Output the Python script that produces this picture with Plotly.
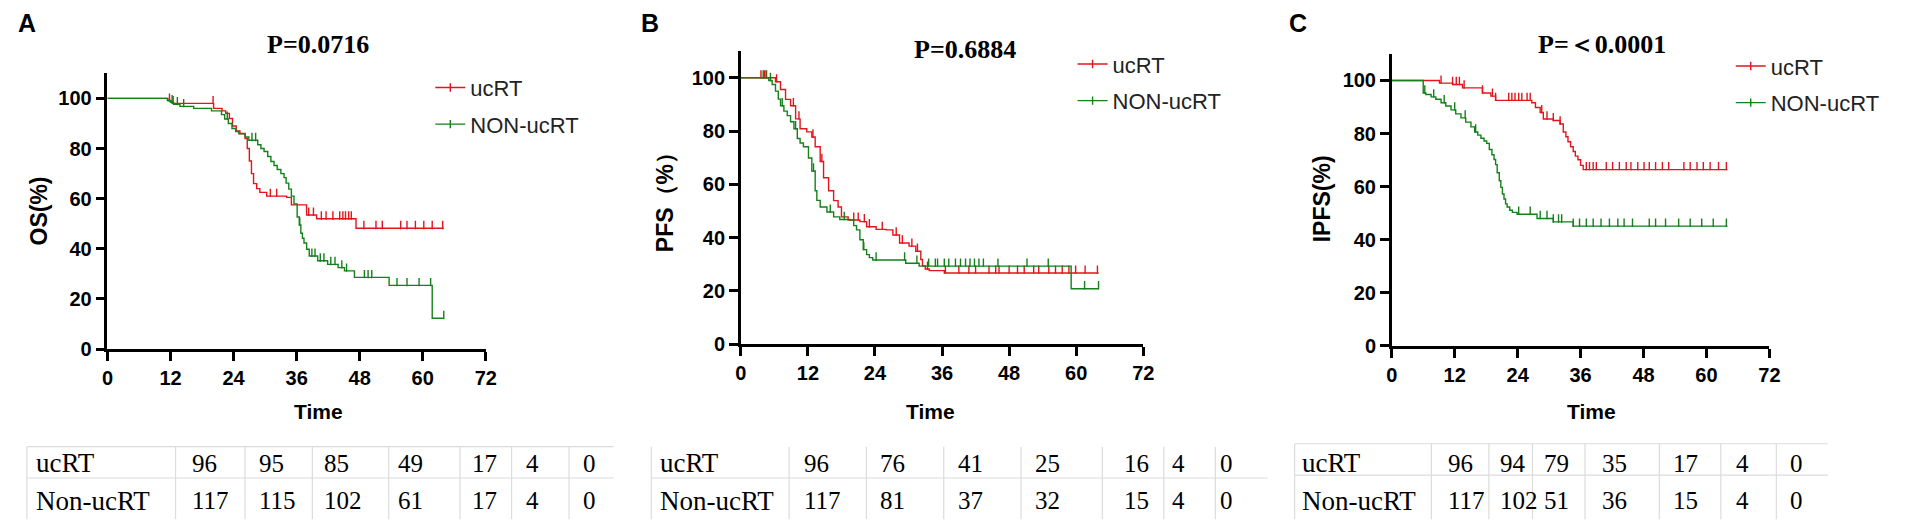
import numpy as np
import plotly.graph_objects as go

W, H = 1929, 529
RED = "#e3141b"
GREEN = "#13801a"
END = 64

# ---- Kaplan-Meier step data (time in months, survival %) ----
# A: OS
os_uc_t = [0, 11.5, 12.3, 20.2, 21.8, 22.5, 23.2, 23.8, 24.5, 25.2, 26.2, 26.6, 27.0, 27.4, 27.8,
           28.4, 29.0, 30.3, 34.1, 35.0, 37.9, 39.8, 47.3]
os_uc_s = [100, 99, 98, 96, 95, 94, 92, 89, 87, 86, 84, 80, 75, 70, 66,
           64, 62.5, 61, 60.5, 57.5, 53.5, 52, 48.2]
os_uc_cens = [11.8, 12.5, 20.1, 31.0, 32.2, 38.3, 39.2, 40.7, 41.6, 42.9, 44.2, 44.8, 45.3, 45.9,
              46.4, 48.8, 51.1, 52.3, 55.8, 57.0, 58.6, 60.2, 61.8, 63.8]
os_non_t = [0, 11.4, 12.0, 12.6, 13.8, 16.4, 19.8, 21.7, 22.3, 23.0, 23.7, 24.4, 25.0, 26.2, 26.9,
            28.6, 29.2, 29.8, 30.5, 31.1, 31.7, 32.3, 33.0, 33.6, 34.0, 34.5, 35.0, 35.5, 36.1,
            36.5, 36.8, 37.1, 37.4, 37.9, 38.4, 40.0, 41.9, 43.9, 45.1, 47.0, 53.6, 61.8]
os_non_s = [100, 99.2, 98.4, 97.6, 96.8, 96, 95, 93.5, 91.8, 90, 88, 86.8, 85.9, 84.6, 83.3,
            81.5, 80, 78.8, 76.8, 74.8, 73.2, 71.6, 70, 68.4, 66.2, 63.8, 61, 57.9, 52.7,
            49.5, 46.2, 44.2, 42.3, 39.8, 37.1, 35.2, 33.8, 32.5, 31.2, 28.6, 25.4, 12.3]
os_non_cens = [12.3, 13.3, 14.5, 22.8, 27.5, 28.2, 36.6, 38.9, 39.5, 40.5, 41.2, 42.5, 43.3, 44.6,
               45.5, 48.9, 49.6, 50.3, 55.1, 57.0, 59.3, 61.5, 64.0]

# B: PFS
pfs_uc_t = [0, 6.2, 7.1, 8.0, 8.9, 9.8, 10.6, 11.8, 12.7, 13.3, 14.2, 14.8, 15.7, 16.6, 17.4, 18.0,
            19.2, 21.3, 22.5, 24.2, 26.0, 27.2, 28.4, 30.1, 31.3, 32.2, 32.5, 33.0, 33.7, 36.4]
pfs_uc_s = [100, 98.5, 95.6, 91.9, 89.5, 84.6, 80.9, 79.7, 77.8, 74.1, 68.6, 62.5, 57.6, 53.9, 51.5, 47.8,
            46.6, 46, 44.1, 43.1, 42.9, 41, 38, 36.8, 34.9, 31.8, 29.4, 28.2, 27.6, 26.7]
pfs_uc_cens = [3.6, 4.2, 4.6, 6.4, 9.4, 10.4, 12.9, 14.5, 20.2, 21.0, 22.1, 23.0, 25.3, 27.8, 28.9,
               30.6, 31.6, 33.4, 36.6, 39.0, 40.8, 42.0, 44.4, 45.6, 46.2, 48.0, 49.5, 50.7, 52.4,
               53.3, 55.1, 56.3, 57.5, 58.7, 59.9, 61.6, 63.8]
pfs_non_t = [0, 5.0, 5.6, 6.2, 6.7, 7.1, 7.7, 8.3, 8.9, 9.5, 10.1, 10.6, 11.2, 12.1, 12.7, 13.3, 13.6,
             14.2, 15.4, 16.6, 17.7, 19.5, 20.2, 20.7, 21.3, 21.9, 22.5, 23.0, 23.6, 29.5, 31.9, 59.1]
pfs_non_s = [100, 99, 97.5, 95, 92, 89.5, 87.5, 85.8, 83.5, 80.9, 77.2, 75.5, 74.1, 69.9, 65, 57.6, 54,
             51.5, 49.6, 47.8, 46.8, 46.6, 44.5, 42.9, 39.2, 35.5, 33.6, 32.5, 31.6, 30.4, 29.3, 20.8]
pfs_non_cens = [4.0, 4.5, 5.3, 7.4, 9.8, 13.0, 16.0, 18.5, 22.0, 24.2, 29.3, 31.5, 33.6, 34.8, 35.2,
                36.4, 37.2, 38.4, 39.3, 40.2, 41.0, 41.8, 42.6, 43.4, 46.0, 51.2, 55.0, 61.5, 64.0]

# C: IPFS
ipfs_uc_t = [0, 9.1, 11.6, 13.5, 17.3, 18.9, 19.8, 26.7, 27.4, 28.3, 28.9, 30.8, 32.1, 32.7, 33.2,
             33.6, 34.1, 34.6, 35.0, 35.5, 36.0, 36.5]
ipfs_uc_s = [100, 99, 98.5, 97.2, 95.3, 94.1, 92.5, 91.6, 89.8, 87.9, 85.5, 84.9, 83.6, 80.6, 78.8,
             76.9, 75, 73.2, 71.5, 70.1, 68, 66.4]
ipfs_uc_cens = [9.4, 11.6, 12.3, 12.9, 13.8, 17.3, 19.2, 19.8, 22.3, 22.9, 23.5, 24.2, 24.8, 25.8,
                26.4, 28.6, 29.6, 30.8, 32.1, 37.1, 37.7, 38.4, 39.0, 40.9, 42.1, 43.4, 44.7, 45.6,
                46.9, 48.1, 49.1, 50.3, 51.6, 52.8, 55.7, 56.9, 58.2, 59.4, 60.7, 62.3, 63.8]
ipfs_non_t = [0, 6.0, 6.5, 7.5, 8.4, 9.4, 10.3, 11.3, 12.2, 13.2, 14.1, 15.1, 15.8, 16.4, 17.0, 17.6,
              18.1, 18.6, 19.1, 19.5, 19.8, 20.1, 20.5, 20.8, 21.1, 21.4, 21.7, 22.0, 22.5, 23.0,
              23.9, 27.7, 30.8, 34.6]
ipfs_non_s = [100, 95.3, 94.7, 93.8, 92.9, 91.6, 90.4, 88.9, 87.4, 85.9, 84.3, 82.5, 80.6, 79.4, 78.2, 77.2,
              76.3, 74, 72, 70.2, 68.3, 65.2, 62.2, 59.7, 57.2, 55.3, 53.5, 52.3, 51.1, 50.3,
              49.6, 48, 46.7, 45.1]
ipfs_non_cens = [6.3, 8.0, 10.0, 12.0, 14.0, 16.0, 24.2, 26.4, 28.3, 29.6, 30.8, 31.8, 32.4, 34.6,
                 35.8, 37.1, 38.4, 39.9, 41.5, 43.1, 44.3, 45.9, 49.1, 50.3, 52.2, 54.7, 56.9, 59.1,
                 61.3, 63.8]

# ---- numbers at risk ----
risk_rows = ["ucRT", "Non-ucRT"]
risk_os_uc = [96, 95, 85, 49, 17, 4, 0]
risk_os_non = [117, 115, 102, 61, 17, 4, 0]
risk_pfs_uc = [96, 76, 41, 25, 16, 4, 0]
risk_pfs_non = [117, 81, 37, 32, 15, 4, 0]
risk_ipfs_uc = [96, 94, 79, 35, 17, 4, 0]
risk_ipfs_non = [117, 102, 51, 36, 15, 4, 0]

x_ticks = [0, 12, 24, 36, 48, 60, 72]
y_ticks = [0, 20, 40, 60, 80, 100]
titles = ["P=0.0716", "P=0.6884", "P=\uff1c0.0001"]
y_titles = ["OS(%)", "PFS\uff08%\uff09", "IPFS(%)"]
legend_names = ["ucRT", "NON-ucRT"]


def fx(p):
    return p / W


def fy(p):
    return 1 - p / H


# panel geometry in pixels: plot box, legend, labels, table
panels = [
    dict(letter="A", box=(94.3, 476, 348.3, 66.7), title=(307, 37), letter_xy=(13, 15),
         ytitle=(25, 207), time=(307, 412), legend=(420, 60),
         label_x=20, val_x=[178, 245, 311, 385, 460, 515, 572],
         vlines=[13, 163, 233, 301, 378, 450, 502, 560], table=(13, 605, 448, 480), top=True,
         data=[(os_uc_t, os_uc_s, os_uc_cens), (os_non_t, os_non_s, os_non_cens)],
         risk=[risk_os_uc, risk_os_non]),
    dict(letter="B", box=(733.3, 1139.3, 343.3, 44.1), title=(959, 42), letter_xy=(642, 15),
         ytitle=(657, 193), time=(925, 412), legend=(1068, 36),
         label_x=650, val_x=[795, 872, 950, 1028, 1118, 1166, 1215],
         vlines=[643, 782, 860, 938, 1016, 1098, 1160, 1212], table=(643, 1265, 448, 480), top=False,
         data=[(pfs_uc_t, pfs_uc_s, pfs_uc_cens), (pfs_non_t, pfs_non_s, pfs_non_cens)],
         risk=[risk_pfs_uc, risk_pfs_non]),
    dict(letter="C", box=(1390, 1771, 345, 46.9), title=(1602, 37), letter_xy=(1295, 15),
         ytitle=(1320, 195), time=(1592, 412), legend=(1732, 38),
         label_x=1297, val_x=[1445, 1497, 1542, 1600, 1672, 1735, 1790],
         vlines=[1292, 1430, 1488, 1532, 1585, 1660, 1722, 1778], table=(1292, 1830, 445, 477), top=True,
         data=[(ipfs_uc_t, ipfs_uc_s, ipfs_uc_cens), (ipfs_non_t, ipfs_non_s, ipfs_non_cens)],
         risk=[risk_ipfs_uc, risk_ipfs_non]),
]

SANS = "Liberation Sans"
SERIF = "Liberation Serif"

fig = go.Figure()
annotations = []
shapes = []
layout = {}

for i, p in enumerate(panels):
    n = "" if i == 0 else str(i + 1)
    xref, yref = "x" + n, "y" + n
    legend_id = "legend" + n
    x0, x1, y0, y1 = p["box"]

    for (t, s, cens), color, name in zip(p["data"], [RED, GREEN], legend_names):
        t = np.array(t, dtype=float)
        s = np.array(s, dtype=float)
        fig.add_trace(go.Scatter(
            x=np.append(t, END), y=np.append(s, s[-1]), mode="lines",
            line=dict(color=color, width=1.4, shape="hv"),
            xaxis=xref, yaxis=yref, showlegend=False, hoverinfo="skip"))
        # censor marks sit on top of the step line
        c = np.array(cens, dtype=float)
        cy = s[np.searchsorted(t, c, side="right") - 1] + 1.3
        fig.add_trace(go.Scatter(
            x=c, y=cy, mode="markers",
            marker=dict(symbol="line-ns", size=6, line=dict(color=color, width=1.4)),
            xaxis=xref, yaxis=yref, showlegend=False, hoverinfo="skip"))
        fig.add_trace(go.Scatter(
            x=[None], y=[None], mode="lines+markers", name=name,
            line=dict(color=color, width=1.4),
            marker=dict(symbol="line-ns", size=6, line=dict(color=color, width=1.4)),
            xaxis=xref, yaxis=yref, legend=legend_id, legendgroup=name + n))

    axis_common = dict(showline=True, linecolor="black", linewidth=2.5, ticks="outside",
                       ticklen=9, tickwidth=2.5, tickcolor="black", showgrid=False,
                       zeroline=False, fixedrange=True,
                       tickfont=dict(family=SANS, size=20, color="black", weight="bold"))
    layout["xaxis" + n] = dict(axis_common, domain=[fx(x0), fx(x1)], anchor=yref,
                               range=[0, 72], tickvals=x_ticks)
    layout["yaxis" + n] = dict(axis_common, domain=[fy(y0), fy(y1)], anchor=xref,
                               range=[0, 110], tickvals=y_ticks)
    lx, ly = p["legend"]
    layout[legend_id] = dict(x=fx(lx), y=fy(ly), xanchor="left", yanchor="top",
                             bgcolor="rgba(0,0,0,0)", tracegroupgap=5, itemwidth=30,
                             font=dict(family=SANS, size=22, color="#222"))

    def txt(text, xy, size, family, weight="normal", angle=0, anchor="center"):
        annotations.append(dict(text=text, x=fx(xy[0]), y=fy(xy[1]), xref="paper", yref="paper",
                                showarrow=False, xanchor=anchor, yanchor="middle", textangle=angle,
                                font=dict(family=family, size=size, color="black", weight=weight)))

    txt(p["letter"], p["letter_xy"], 25, SANS, "bold")
    txt(titles[i], p["title"], 26, SERIF, "bold")
    txt(y_titles[i], p["ytitle"], 23, SANS, "bold", angle=-90)
    txt("Time", p["time"], 21, SANS, "bold")

    # number-at-risk table
    tl, tr, ttop, tmid = p["table"]
    row_y = [465, 503]
    for r, label in enumerate(risk_rows):
        txt(label, (p["label_x"], row_y[r]), 27, SERIF, anchor="left")
        for v, vx in zip(p["risk"][r], p["val_x"]):
            txt(str(v), (vx, row_y[r]), 25, SERIF, anchor="left")
    grid = dict(type="line", xref="paper", yref="paper", line=dict(color="#dcdcdc", width=1.2))
    if p["top"]:
        shapes.append(dict(grid, x0=fx(tl), x1=fx(tr), y0=fy(ttop), y1=fy(ttop)))
    shapes.append(dict(grid, x0=fx(tl), x1=fx(tr), y0=fy(tmid), y1=fy(tmid)))
    for vx in p["vlines"]:
        shapes.append(dict(grid, x0=fx(vx), x1=fx(vx), y0=fy(ttop), y1=fy(522)))

fig.update_layout(**layout)
fig.update_layout(width=W, height=H, margin=dict(l=0, r=0, t=0, b=0),
                  paper_bgcolor="white", plot_bgcolor="white",
                  annotations=annotations, shapes=shapes)

fig.write_html("out.html")
